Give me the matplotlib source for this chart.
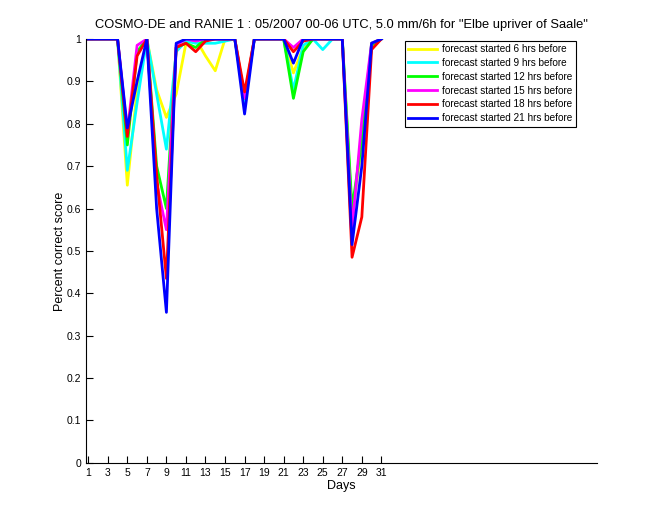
import numpy as np
import matplotlib
matplotlib.use('Agg')
import matplotlib.pyplot as plt

plt.rcParams['font.family'] = ['Liberation Sans', 'DejaVu Sans']

days = list(range(1, 32))

fc6 = [1, 1, 1, 1, 0.655, 0.88, 1, 0.88, 0.815, 0.87, 0.99, 1, 0.96, 0.925, 1, 1,
       0.86, 1, 1, 1, 1, 0.92, 0.98, 1, 1, 1, 1, 0.58, 0.75, 0.99, 1]
fc9 = [1, 1, 1, 1, 0.69, 0.85, 1, 0.87, 0.74, 0.97, 0.995, 0.99, 0.99, 0.99, 0.995, 1,
       0.85, 1, 1, 1, 1, 0.88, 0.985, 1, 0.975, 1, 1, 0.57, 0.78, 0.99, 1]
fc12 = [1, 1, 1, 1, 0.75, 0.97, 1, 0.70, 0.60, 0.98, 0.99, 0.98, 1, 1, 1, 1,
        0.86, 1, 1, 1, 1, 0.86, 0.97, 1, 1, 1, 1, 0.60, 0.76, 0.985, 1]
fc15 = [1, 1, 1, 1, 0.78, 0.985, 1, 0.66, 0.55, 0.985, 1, 0.995, 1, 1, 1, 1,
        0.86, 1, 1, 1, 1, 0.98, 1, 1, 1, 1, 1, 0.55, 0.81, 0.99, 1]
fc18 = [1, 1, 1, 1, 0.77, 0.96, 1, 0.68, 0.435, 0.98, 0.99, 0.97, 0.995, 1, 1, 1,
        0.875, 1, 1, 1, 1, 0.97, 0.995, 1, 1, 1, 1, 0.485, 0.58, 0.975, 1]
fc21 = [1, 1, 1, 1, 0.79, 0.90, 1, 0.60, 0.355, 0.99, 1, 1, 1, 1, 1, 1,
        0.823, 1, 1, 1, 1, 0.943, 1, 1, 1, 1, 1, 0.515, 0.70, 0.99, 1]

series = [fc6, fc9, fc12, fc15, fc18, fc21]
labels = ['forecast started 6 hrs before', 'forecast started 9 hrs before',
          'forecast started 12 hrs before', 'forecast started 15 hrs before',
          'forecast started 18 hrs before', 'forecast started 21 hrs before']
colors = ['#ffff00', '#00ffff', '#00ff00', '#ff00ff', '#ff0000', '#0000ff']

fig = plt.figure(figsize=(6.6, 5.2), dpi=100)
ax = fig.add_axes([0.13, 0.11, 0.775, 0.815])

for s, lab, c in zip(series, labels, colors):
    ax.plot(days, s, color=c, lw=2, label=lab)

ax.set_xlim(0.75, 53.1)
ax.set_ylim(0, 1)
ax.set_xticks(range(1, 32, 2))
ax.set_yticks(np.arange(0, 1.01, 0.1))
ax.set_yticklabels(['0', '0.1', '0.2', '0.3', '0.4', '0.5', '0.6', '0.7', '0.8', '0.9', '1'])
ax.tick_params(direction='in', length=5, width=0.8, labelsize=7.5)
ax.spines['top'].set_visible(False)
ax.spines['right'].set_visible(False)

ax.set_xlabel('Days', fontsize=9, labelpad=2)
ax.set_ylabel('Percent correct score', fontsize=9, labelpad=0)
ax.set_title('COSMO-DE and RANIE 1 : 05/2007 00-06 UTC, 5.0 mm/6h for "Elbe upriver of Saale"',
             fontsize=9.3, pad=8)

leg = ax.legend(loc='upper right', bbox_to_anchor=(0.968, 1.008), fontsize=7.2,
                handlelength=2.9, handletextpad=0.5, labelspacing=0.38, borderpad=0.35,
                fancybox=False, framealpha=1)
leg.get_frame().set_edgecolor('black')
leg.get_frame().set_linewidth(0.8)

fig.savefig('out.png')
